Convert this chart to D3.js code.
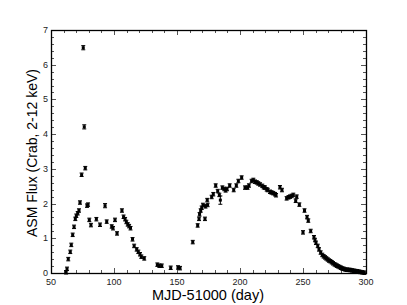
<!DOCTYPE html>
<html><head><meta charset="utf-8">
<script src="https://cdn.jsdelivr.net/npm/d3@7"></script>
<style>body{margin:0;background:#fff;} text{font-family:"Liberation Sans",Arial,sans-serif;}</style>
</head><body>
<svg id="c" width="407" height="305"></svg>
<script>
const days = [62.0,62.7,63.7,65.3,66.1,67.2,68.3,69.3,70.1,71.2,72.2,73.0,74.3,75.6,76.4,77.2,78.6,79.4,80.4,81.7,86.0,88.9,92.9,94.2,98.2,99.2,100.8,102.4,106.3,107.6,108.8,109.8,110.9,112.0,113.1,114.7,116.0,118.0,119.3,120.6,121.7,124.0,134.4,136.0,137.9,145.0,150.8,152.4,162.5,166.4,167.5,167.9,168.8,169.6,170.6,172.2,172.6,174.0,174.3,177.5,178.8,180.7,182.3,183.6,184.4,186.0,187.5,188.6,189.7,191.8,195.0,197.1,198.7,201.3,204.0,206.0,207.1,209.2,210.6,211.9,213.3,214.5,215.9,217.7,218.8,219.8,221.2,222.0,223.8,225.0,226.4,227.8,228.6,231.7,233.3,237.0,238.5,239.7,241.0,242.3,244.2,245.0,247.1,250.0,251.2,253.2,254.2,256.1,258.7,259.5,260.3,261.7,262.7,264.0,265.3,266.4,267.5,268.5,269.6,270.6,271.7,272.8,273.8,275.0,276.0,277.0,278.0,279.1,280.2,281.2,282.3,283.6,284.9,286.2,287.5,288.8,290.2,291.5,292.9,294.2,295.5,297.1,298.7];
const flux = [0.02,0.12,0.40,0.61,0.81,1.10,1.33,1.56,1.65,1.72,1.80,2.03,2.83,6.49,4.21,3.02,1.94,1.97,1.53,1.38,1.55,1.39,1.94,1.48,1.34,1.29,1.53,1.14,1.80,1.62,1.55,1.47,1.40,1.35,1.29,0.97,0.78,0.68,0.61,0.54,0.47,0.42,0.24,0.21,0.21,0.15,0.16,0.14,0.89,1.37,1.56,1.69,1.80,1.88,1.96,1.56,1.92,2.10,1.96,2.19,2.27,2.52,2.36,2.25,2.10,2.46,2.42,2.38,2.42,2.52,2.39,2.52,2.65,2.75,2.46,2.46,2.52,2.65,2.68,2.63,2.61,2.58,2.55,2.51,2.47,2.46,2.41,2.39,2.34,2.32,2.30,2.27,2.24,2.47,2.39,2.15,2.18,2.20,2.22,2.25,2.08,2.20,1.97,1.17,1.80,1.61,1.51,1.21,1.03,0.95,0.87,0.78,0.68,0.59,0.52,0.48,0.45,0.42,0.39,0.36,0.34,0.31,0.28,0.25,0.23,0.21,0.19,0.17,0.15,0.13,0.12,0.10,0.095,0.09,0.086,0.075,0.066,0.057,0.049,0.04,0.029,0.018,0.009];
const errs = days.map((d,i)=> d===184.4 ? 0.12 : (d===92.9||d===75.6||d===76.4 ? 0.06 : 0.05));
const xTicks = [50,100,150,200,250,300];
const yTicks = [0,1,2,3,4,5,6,7];

const svg = d3.select("#c");
const L=51, R=366, T=30, B=273;
const x = d3.scaleLinear().domain([50,300]).range([L,R]);
const y = d3.scaleLinear().domain([0,7]).range([B,T]);

const g = svg.append("g");
const xMinor = d3.range(50,301,10), yMinor = d3.range(0,7.01,0.2);
const tk = g.append("g").attr("stroke","#555").attr("stroke-width",1);
xMinor.forEach(v=>{
  const len = (Math.round(v)%50===0)?5:3;
  const px = Math.round(x(v))+0.5;
  tk.append("line").attr("x1",px).attr("x2",px).attr("y1",B).attr("y2",B-len);
  tk.append("line").attr("x1",px).attr("x2",px).attr("y1",T).attr("y2",T+len);
});
yMinor.forEach(v=>{
  const len = (Math.abs(v-Math.round(v))<1e-6)?5:3;
  const py = Math.round(y(v))+0.5;
  tk.append("line").attr("x1",L).attr("x2",L+len).attr("y1",py).attr("y2",py);
  tk.append("line").attr("x1",R).attr("x2",R-len).attr("y1",py).attr("y2",py);
});
g.append("rect").attr("x",L+0.5).attr("y",T+0.5).attr("width",R-L).attr("height",B-T)
  .attr("fill","none").attr("stroke","#000").attr("stroke-width",1.3);

g.selectAll(".xl").data(xTicks).enter().append("text")
  .attr("x",d=>x(d)).attr("y",B+12).attr("text-anchor","middle")
  .attr("font-size",9).attr("fill","#222").text(d=>d);
g.selectAll(".yl").data(yTicks).enter().append("text")
  .attr("x",L-3).attr("y",d=>y(d)+3).attr("text-anchor","end")
  .attr("font-size",9).attr("fill","#222").text(d=>d);

svg.append("text").attr("x",208).attr("y",300).attr("text-anchor","middle")
  .attr("font-size",14.5).attr("fill","#000").text("MJD-51000 (day)");
svg.append("text").attr("transform","translate(37,153) rotate(-90)").attr("text-anchor","middle")
  .attr("font-size",14).attr("fill","#000").text("ASM Flux (Crab, 2-12 keV)");

const pts = g.append("g");
days.forEach((d,i)=>{
  const cx = x(d), cy = y(flux[i]);
  const y1 = y(flux[i]+errs[i]), y2 = y(flux[i]-errs[i]);
  pts.append("line").attr("x1",cx).attr("x2",cx).attr("y1",y1).attr("y2",y2).attr("stroke","#000").attr("stroke-width",1);
  pts.append("line").attr("x1",cx-2).attr("x2",cx+2).attr("y1",y1).attr("y2",y1).attr("stroke","#000").attr("stroke-width",1);
  pts.append("line").attr("x1",cx-2).attr("x2",cx+2).attr("y1",y2).attr("y2",y2).attr("stroke","#000").attr("stroke-width",1);
  pts.append("rect").attr("x",cx-1.5).attr("y",cy-1.5).attr("width",3).attr("height",3).attr("fill","#000");
});
</script>
</body></html>
